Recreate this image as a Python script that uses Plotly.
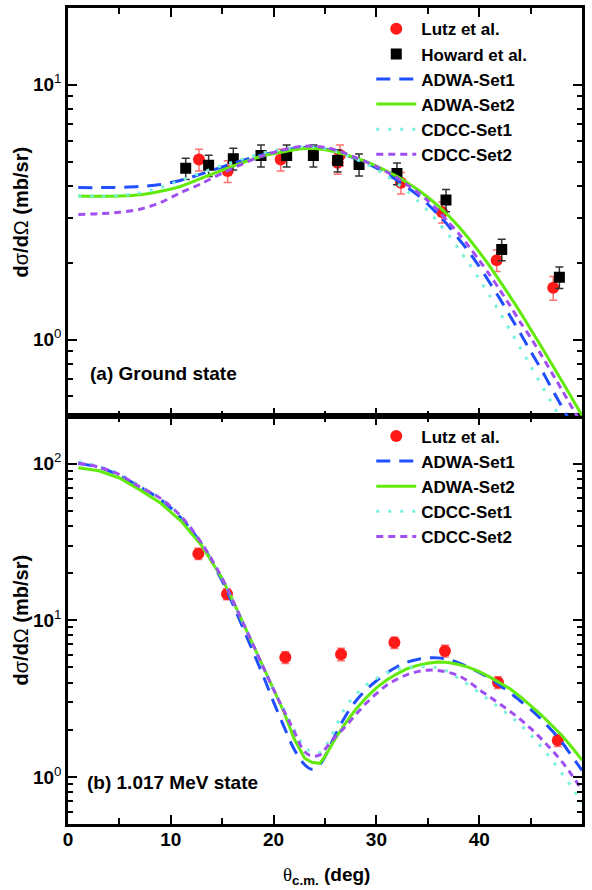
import plotly.graph_objects as go

# ---------------- (a) Ground state ----------------
lutz_a_x = [12.74, 15.53, 20.69, 26.23, 26.46, 32.39, 36.38, 41.70, 47.20]
lutz_a_y = [5.09, 4.59, 5.09, 4.94, 5.30, 4.13, 3.17, 2.05, 1.60]
lutz_a_err = [0.50, 0.45, 0.50, 0.48, 0.50, 0.40, 0.30, 0.20, 0.17]

howard_x = [11.45, 13.68, 16.08, 18.77, 21.27, 23.87, 26.23, 28.31, 32.00, 36.77, 42.19, 47.80]
howard_y = [4.70, 4.83, 5.13, 5.28, 5.28, 5.28, 5.05, 4.87, 4.49, 3.53, 2.26, 1.76]
howard_err = [0.45, 0.46, 0.50, 0.52, 0.52, 0.52, 0.50, 0.48, 0.44, 0.35, 0.22, 0.17]

theta_a = [1, 3, 5, 7, 9, 11, 13, 15, 17, 19, 21, 22, 23, 24, 25, 26, 27, 28, 29, 30,
           31, 32, 33, 34, 35, 36, 37, 38, 39, 40, 41, 42, 43, 44, 45, 46, 47, 48, 49, 50]
adwa1_a = [3.95, 3.95, 3.96, 3.99, 4.06, 4.22, 4.47, 4.76, 5.05, 5.32, 5.52, 5.62, 5.67, 5.67,
           5.60, 5.48, 5.32, 5.12, 4.93, 4.72, 4.48, 4.22, 3.96, 3.70, 3.40, 3.10, 2.80, 2.49,
           2.21, 1.94, 1.68, 1.45, 1.24, 1.06, 0.90, 0.77, 0.65, 0.55, 0.465, 0.39]
adwa2_a = [3.66, 3.65, 3.66, 3.70, 3.82, 4.00, 4.30, 4.62, 4.95, 5.27, 5.46, 5.56, 5.62, 5.62,
           5.56, 5.46, 5.32, 5.16, 4.99, 4.80, 4.59, 4.37, 4.13, 3.88, 3.62, 3.35, 3.07, 2.78,
           2.49, 2.21, 1.95, 1.70, 1.48, 1.28, 1.10, 0.946, 0.811, 0.693, 0.592, 0.504]
cdcc1_a = [3.66, 3.66, 3.68, 3.76, 3.95, 4.22, 4.52, 4.82, 5.12, 5.40, 5.60, 5.68, 5.72, 5.70,
           5.62, 5.48, 5.30, 5.11, 4.90, 4.66, 4.39, 4.10, 3.82, 3.51, 3.21, 2.89, 2.58, 2.27,
           1.99, 1.73, 1.49, 1.28, 1.09, 0.93, 0.79, 0.67, 0.57, 0.485, 0.41, 0.35]
cdcc2_a = [3.10, 3.12, 3.16, 3.25, 3.45, 3.78, 4.10, 4.50, 4.90, 5.28, 5.56, 5.68, 5.74, 5.74,
           5.68, 5.55, 5.38, 5.18, 4.98, 4.78, 4.55, 4.32, 4.05, 3.79, 3.51, 3.21, 2.89, 2.61,
           2.32, 2.05, 1.80, 1.57, 1.36, 1.17, 1.02, 0.876, 0.75, 0.64, 0.545, 0.465]

# ---------------- (b) 1.017 MeV state ----------------
lutz_b_x = [12.68, 15.47, 21.14, 26.56, 31.75, 36.67, 41.83, 47.64]
lutz_b_y = [26.6, 14.7, 5.80, 6.07, 7.20, 6.37, 4.01, 1.71]
lutz_b_err = [2.2, 1.2, 0.50, 0.55, 0.60, 0.55, 0.35, 0.15]

theta_b = [1, 3, 5, 7, 9, 11, 13, 15, 16, 17, 18, 19, 20, 21, 22, 23, 23.7, 24.5, 25, 26,
           27, 28, 29, 30, 31, 32, 33, 34, 35, 36, 37, 38, 39, 40, 41, 42, 43, 44, 45, 46,
           47, 48, 49, 50]
adwa1_b = [100, 95, 84, 71, 59, 45, 30.5, 17.8, 12.8, 9.0, 6.3, 4.4, 3.0, 2.1, 1.5, 1.2, 1.12,
           1.2, 1.35, 1.85, 2.45, 3.05, 3.6, 4.1, 4.6, 5.05, 5.4, 5.62, 5.75, 5.75, 5.6, 5.35,
           5.0, 4.65, 4.25, 3.85, 3.45, 3.05, 2.7, 2.35, 2.0, 1.68, 1.36, 1.10]
adwa2_b = [94, 90, 81, 68, 56, 43, 30, 18.5, 13.5, 9.7, 7.0, 5.0, 3.6, 2.6, 1.75, 1.32, 1.24,
           1.22, 1.35, 1.75, 2.2, 2.7, 3.2, 3.7, 4.15, 4.55, 4.9, 5.15, 5.32, 5.42, 5.38, 5.22,
           5.0, 4.7, 4.35, 4.0, 3.65, 3.25, 2.85, 2.5, 2.15, 1.85, 1.55, 1.28]
cdcc1_b = [103, 96, 86, 72, 60, 46, 31, 18.5, 13.5, 9.7, 7.0, 5.0, 3.6, 2.7, 2.0, 1.55, 1.45,
           1.43, 1.55, 2.05, 2.8, 3.35, 3.85, 4.25, 4.6, 4.85, 5.0, 5.07, 5.05, 4.95, 4.7, 4.25,
           3.85, 3.45, 3.08, 2.75, 2.45, 2.15, 1.85, 1.56, 1.30, 1.06, 0.86, 0.68]
cdcc2_b = [101, 95, 85, 71, 60, 46, 31, 18.5, 13.5, 9.7, 7.0, 5.0, 3.6, 2.65, 1.95, 1.45, 1.36,
           1.38, 1.5, 1.8, 2.1, 2.5, 2.95, 3.4, 3.85, 4.2, 4.5, 4.7, 4.8, 4.78, 4.65, 4.42,
           4.05, 3.6, 3.25, 2.92, 2.62, 2.33, 2.04, 1.76, 1.50, 1.26, 1.03, 0.82]

RED = "#ff1a1a"
RED_ERR = "#ff7070"
BLUE = "#1f4fff"
GREEN = "#62ea0c"
CYAN = "#78f2dc"
PURPLE = "#a04ff0"

line_styles = [
    ("ADWA-Set1", BLUE, "14px,9px"),
    ("ADWA-Set2", GREEN, "solid"),
    ("CDCC-Set1", CYAN, "3px,9px"),
    ("CDCC-Set2", PURPLE, "7px,5px"),
]

fig = go.Figure()

# top panel
fig.add_trace(go.Scatter(x=lutz_a_x, y=lutz_a_y, mode="markers", name="Lutz et al.",
                         marker=dict(symbol="circle", size=12, color=RED),
                         error_y=dict(type="data", array=lutz_a_err, color=RED_ERR, thickness=1.5, width=4),
                         xaxis="x2", yaxis="y2", legend="legend"))
fig.add_trace(go.Scatter(x=howard_x, y=howard_y, mode="markers", name="Howard et al.",
                         marker=dict(symbol="square", size=11, color="black"),
                         error_y=dict(type="data", array=howard_err, color="#333333", thickness=1.5, width=4),
                         xaxis="x2", yaxis="y2", legend="legend"))
for (name, col, dash), ys in zip(line_styles, [adwa1_a, adwa2_a, cdcc1_a, cdcc2_a]):
    fig.add_trace(go.Scatter(x=theta_a, y=ys, mode="lines", name=name,
                             line=dict(color=col, width=3, dash=dash, shape="spline", smoothing=0.8),
                             xaxis="x2", yaxis="y2", legend="legend"))

# bottom panel
fig.add_trace(go.Scatter(x=lutz_b_x, y=lutz_b_y, mode="markers", name="Lutz et al.",
                         marker=dict(symbol="circle", size=12, color=RED),
                         error_y=dict(type="data", array=lutz_b_err, color=RED_ERR, thickness=1.5, width=4),
                         xaxis="x", yaxis="y", legend="legend2"))
for (name, col, dash), ys in zip(line_styles, [adwa1_b, adwa2_b, cdcc1_b, cdcc2_b]):
    shape = "linear" if name == "ADWA-Set2" else "spline"
    fig.add_trace(go.Scatter(x=theta_b, y=ys, mode="lines", name=name,
                             line=dict(color=col, width=3, dash=dash, shape=shape),
                             xaxis="x", yaxis="y", legend="legend2"))

FONT = "Liberation Sans"
axis_common = dict(showline=True, linecolor="black", linewidth=2.5, mirror="ticks",
                   ticks="inside", ticklen=9, tickwidth=2, tickcolor="black",
                   showgrid=False, zeroline=False,
                   tickfont=dict(family=FONT, size=19, color="black"))

x_ticks = [0, 10, 20, 30, 40, 50]
x_minor = [5, 15, 25, 35, 45]
xaxis_common = dict(axis_common, range=[0, 50], tickvals=x_ticks,
                    ticktext=["<b>%d</b>" % v for v in x_ticks],
                    minor=dict(tickvals=x_minor, ticks="inside", ticklen=6, tickwidth=2, tickcolor="black"))

minor_a = [0.5, 0.6, 0.7, 0.8, 0.9, 2, 3, 4, 5, 6, 7, 8, 9]
minor_b = [0.5, 0.6, 0.7, 0.8, 0.9, 2, 3, 4, 5, 6, 7, 8, 9,
           20, 30, 40, 50, 60, 70, 80, 90]

SPLIT = 0.4994
legend_font = dict(family=FONT, size=17, color="black", weight="bold")
fig.update_layout(
    width=592, height=890,
    margin=dict(l=68, r=10, t=5, b=66),
    paper_bgcolor="white", plot_bgcolor="white",
    showlegend=True,
    xaxis=dict(xaxis_common, anchor="y", domain=[0, 1], ticklabelstandoff=-4),
    xaxis2=dict(xaxis_common, anchor="y2", domain=[0, 1], showticklabels=False),
    yaxis=dict(axis_common, type="log", anchor="x", domain=[0, SPLIT],
               range=[-0.30103, 2.30103], tickvals=[1, 10, 100],
               ticktext=["<b>10</b><sup>0</sup>", "<b>10</b><sup>1</sup>", "<b>10</b><sup>2</sup>"],
               minor=dict(tickvals=minor_b, ticks="inside", ticklen=5, tickwidth=2, tickcolor="black")),
    yaxis2=dict(axis_common, type="log", anchor="x2", domain=[SPLIT, 1],
                range=[-0.30103, 1.30103], tickvals=[1, 10],
                ticktext=["<b>10</b><sup>0</sup>", "<b>10</b><sup>1</sup>"],
                minor=dict(tickvals=minor_a, ticks="inside", ticklen=5, tickwidth=2, tickcolor="black")),
    legend=dict(x=0.59, y=0.996, xanchor="left", yanchor="top", bgcolor="rgba(0,0,0,0)",
                font=legend_font, itemwidth=40, tracegroupgap=0),
    legend2=dict(x=0.59, y=0.497, xanchor="left", yanchor="top", bgcolor="rgba(0,0,0,0)",
                 font=legend_font, itemwidth=40, tracegroupgap=0),
)

ytitle = "<b>d</b>σ<b>/d</b>Ω<b> (mb/sr)</b>"
ann_font = dict(family=FONT, size=20, color="black")
fig.add_annotation(text=ytitle, xref="paper", yref="paper", x=-0.0905, y=0.75,
                   xanchor="center", yanchor="middle", textangle=-90, showarrow=False, font=ann_font)
fig.add_annotation(text=ytitle, xref="paper", yref="paper", x=-0.0905, y=0.25,
                   xanchor="center", yanchor="middle", textangle=-90, showarrow=False, font=ann_font)
lab_font = dict(family=FONT, size=19, color="black")
fig.add_annotation(text="<b>(a) Ground state</b>", xref="paper", yref="paper",
                   x=(88 - 68) / 514, y=(824 - 372) / 819, xanchor="left", yanchor="middle",
                   showarrow=False, font=lab_font)
fig.add_annotation(text="<b>(b) 1.017 MeV state</b>", xref="paper", yref="paper",
                   x=(85 - 68) / 514, y=(824 - 782) / 819, xanchor="left", yanchor="middle",
                   showarrow=False, font=lab_font)
fig.add_annotation(text="<span style='font-family:Liberation Serif'>θ</span><sub><b>c.m.</b></sub><b> (deg)</b>",
                   xref="paper", yref="paper", x=(326 - 68) / 514, y=(824 - 876) / 819,
                   xanchor="center", yanchor="middle", showarrow=False, font=lab_font)

fig.write_html("out.html", config={"displayModeBar": False},
               post_script="document.body.style.margin='0px';")
